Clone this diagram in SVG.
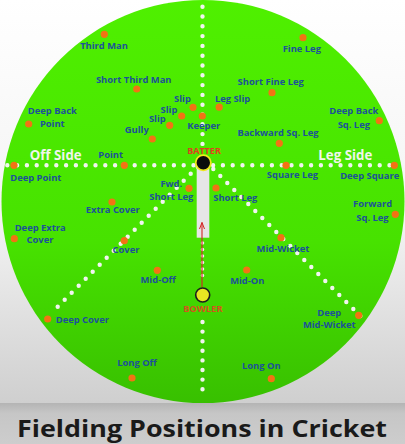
<svg xmlns="http://www.w3.org/2000/svg" width="405" height="444" viewBox="0 0 405 444">
<defs>
<linearGradient id="bg" x1="0" y1="0" x2="0" y2="1">
<stop offset="0" stop-color="#ffffff"/>
<stop offset="0.55" stop-color="#f3f3f3"/>
<stop offset="1" stop-color="#cfcfcf"/>
</linearGradient>
<linearGradient id="band" x1="0" y1="0" x2="0" y2="1">
<stop offset="0" stop-color="#b4b4b4"/>
<stop offset="0.25" stop-color="#c6c6c6"/>
<stop offset="1" stop-color="#cdcdcd"/>
</linearGradient>
<linearGradient id="field" x1="0" y1="0" x2="0" y2="1">
<stop offset="0" stop-color="#4ff000"/>
<stop offset="0.6" stop-color="#47e200"/>
<stop offset="1" stop-color="#38c000"/>
</linearGradient>
<marker id="ah" viewBox="0 0 8 6" refX="7" refY="3" markerWidth="8" markerHeight="6" markerUnits="userSpaceOnUse" orient="auto">
<path d="M0.5,0.5 L7,3 L0.5,5.5" fill="none" stroke="#d42424" stroke-width="1"/>
</marker>
<style>
.lbl{font-family:"Open Sans","DejaVu Sans",sans-serif;font-weight:700;font-size:9.4px;fill:#1c5299;text-anchor:middle}
.side{font-family:"Open Sans","DejaVu Sans",sans-serif;font-weight:700;font-size:13.3px;fill:#f0f6ec;text-anchor:middle}
.f{fill:#f27314}
.dots{fill:none;stroke:#f2f4f0;stroke-width:4.4;stroke-linecap:round}
.role{font-family:"Open Sans","DejaVu Sans",sans-serif;font-weight:700;font-size:9px;text-anchor:middle}
</style>
</defs>
<rect x="0" y="0" width="405" height="403" fill="url(#bg)"/>
<rect x="0" y="403" width="405" height="41" fill="url(#band)"/>
<circle cx="203" cy="201.5" r="201.5" fill="url(#field)"/>

<g id="connectors">
<line class="dots" x1="202.5" y1="6.7" x2="202.5" y2="144" stroke-dasharray="0 9.8"/>
<line class="dots" x1="7.3" y1="165.3" x2="399.3" y2="165.3" stroke-dasharray="0 9.8"/>
<line class="dots" x1="197.7" y1="166.7" x2="50.7" y2="313.7" stroke-dasharray="0 9.9"/>
<line class="dots" x1="213.3" y1="169" x2="367.3" y2="323" stroke-dasharray="0 9.9"/>
<line class="dots" x1="202.5" y1="243" x2="202.5" y2="282" stroke-dasharray="0 6.5" style="stroke-width:3.6"/>
<line class="dots" x1="202.5" y1="322" x2="202.5" y2="389.2" stroke-dasharray="0 9.6"/>
</g>

<g id="pitch"><rect x="196.7" y="165" width="12.6" height="72.7" fill="#e6e6e6"/></g>

<g id="arrow"><line x1="202" y1="287" x2="202" y2="222.5" stroke="#d42424" stroke-width="1.1" marker-end="url(#ah)"/></g>

<g id="batter">
<circle cx="203.3" cy="162.7" r="7.6" fill="#0c0c0c" stroke="#f0e81c" stroke-width="1.8"/>
<text class="role" x="204" y="154" fill="#e0401e">BATTER</text>
</g>
<g id="bowler">
<circle cx="202.7" cy="295" r="7" fill="#e8e622" stroke="#1c1c1c" stroke-width="1.6"/>
<text class="role" x="203" y="312.3" fill="#d4561c" style="font-size:9.4px">BOWLER</text>
</g>

<g id="off-side"><text class="side" x="55.7" y="160">Off Side</text></g>
<g id="leg-side"><text class="side" x="345.3" y="160">Leg Side</text></g>

<g id="third-man"><circle class="f" cx="104.3" cy="34.3" r="3.6"/><text class="lbl" x="104" y="49">Third Man</text></g>
<g id="short-third-man"><circle class="f" cx="136.7" cy="89" r="3.6"/><text class="lbl" x="133.7" y="83">Short Third Man</text></g>
<g id="slip-1"><circle class="f" cx="193" cy="107.3" r="3.6"/><text class="lbl" x="182.5" y="102">Slip</text></g>
<g id="slip-2"><circle class="f" cx="181.7" cy="116" r="3.6"/><text class="lbl" x="169" y="112.7">Slip</text></g>
<g id="slip-3"><circle class="f" cx="169.7" cy="125.3" r="3.6"/><text class="lbl" x="157.3" y="122">Slip</text></g>
<g id="gully"><circle class="f" cx="152.3" cy="139" r="3.6"/><text class="lbl" x="136.8" y="133.3">Gully</text></g>
<g id="deep-back-point"><circle class="f" cx="28.7" cy="124" r="3.6"/><text class="lbl" x="52.3" y="114">Deep Back</text><text class="lbl" x="52.3" y="126.7">Point</text></g>
<g id="keeper"><circle class="f" cx="202.3" cy="116" r="3.6"/><text class="lbl" x="203.7" y="129">Keeper</text></g>
<g id="leg-slip"><circle class="f" cx="219.2" cy="107.2" r="3.6"/><text class="lbl" x="232.6" y="101.5">Leg Slip</text></g>
<g id="fine-leg"><circle class="f" cx="303" cy="37.7" r="3.6"/><text class="lbl" x="301.8" y="51.7">Fine Leg</text></g>
<g id="short-fine-leg"><circle class="f" cx="272" cy="92.7" r="3.6"/><text class="lbl" x="270.7" y="85">Short Fine Leg</text></g>
<g id="deep-back-sq-leg"><circle class="f" cx="379.3" cy="120.7" r="3.6"/><text class="lbl" x="353.8" y="114.3">Deep Back</text><text class="lbl" x="353.8" y="128">Sq. Leg</text></g>
<g id="backward-sq-leg"><circle class="f" cx="279.3" cy="143.3" r="3.6"/><text class="lbl" x="278" y="136">Backward Sq. Leg</text></g>
<g id="point"><circle class="f" cx="124.3" cy="165.3" r="3.6"/><text class="lbl" x="110.7" y="158.3">Point</text></g>
<g id="deep-point"><circle class="f" cx="14" cy="165.3" r="3.6"/><text class="lbl" x="35.8" y="180.7">Deep Point</text></g>
<g id="fwd-short-leg"><circle class="f" cx="189" cy="188.3" r="3.6"/><text class="lbl" x="171.3" y="186.7">Fwd.</text><text class="lbl" x="171.3" y="200">Short Leg</text></g>
<g id="extra-cover"><circle class="f" cx="112" cy="202" r="3.6"/><text class="lbl" x="112.8" y="213.3">Extra Cover</text></g>
<g id="deep-extra-cover"><circle class="f" cx="14.3" cy="238.7" r="3.6"/><text class="lbl" x="40.2" y="230.7">Deep Extra</text><text class="lbl" x="40" y="243.3">Cover</text></g>
<g id="cover"><circle class="f" cx="124.3" cy="240.7" r="3.6"/><text class="lbl" x="126" y="253.3">Cover</text></g>
<g id="mid-off"><circle class="f" cx="157.3" cy="270.3" r="3.6"/><text class="lbl" x="158.2" y="283.3">Mid-Off</text></g>
<g id="square-leg"><circle class="f" cx="286" cy="165.3" r="3.6"/><text class="lbl" x="292.5" y="178.3">Square Leg</text></g>
<g id="deep-square"><circle class="f" cx="394.3" cy="165.3" r="3.6"/><text class="lbl" x="369.7" y="179.3">Deep Square</text></g>
<g id="short-leg"><circle class="f" cx="216" cy="188" r="3.6"/><text class="lbl" x="235.3" y="201">Short Leg</text></g>
<g id="forward-sq-leg"><circle class="f" cx="395.3" cy="214.3" r="3.6"/><text class="lbl" x="372.6" y="206.7">Forward</text><text class="lbl" x="372.5" y="221">Sq. Leg</text></g>
<g id="mid-wicket"><circle class="f" cx="281" cy="237.7" r="3.6"/><text class="lbl" x="283" y="251.7">Mid-Wicket</text></g>
<g id="mid-on"><circle class="f" cx="246.7" cy="270" r="3.6"/><text class="lbl" x="247.3" y="284">Mid-On</text></g>
<g id="deep-cover"><circle class="f" cx="47.7" cy="319" r="3.6"/><text class="lbl" x="55.7" y="323.3" style="text-anchor:start">Deep Cover</text></g>
<g id="long-off"><circle class="f" cx="132" cy="378" r="3.6"/><text class="lbl" x="137" y="366">Long Off</text></g>
<g id="deep-mid-wicket"><circle class="f" cx="358.7" cy="315.3" r="3.6"/><text class="lbl" x="329.2" y="315.7">Deep</text><text class="lbl" x="329.3" y="328.3">Mid-Wicket</text></g>
<g id="long-on"><circle class="f" cx="271.3" cy="378.7" r="3.6"/><text class="lbl" x="261.3" y="369.3">Long On</text></g>

<g id="title"><text x="202" y="437" font-family="'Open Sans','DejaVu Sans',sans-serif" font-weight="700" font-size="24" fill="#1a1a1a" text-anchor="middle" textLength="370" lengthAdjust="spacingAndGlyphs">Fielding Positions in Cricket</text></g>
</svg>
